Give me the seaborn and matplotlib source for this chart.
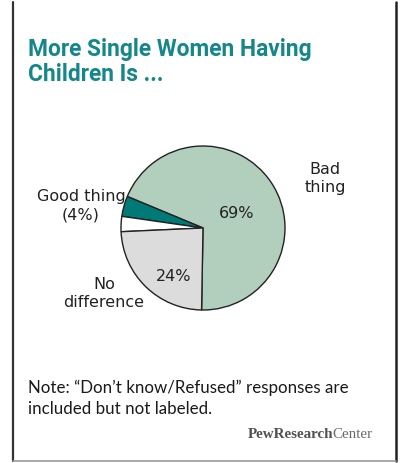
import matplotlib
matplotlib.use("Agg")
import matplotlib.pyplot as plt
import seaborn as sns
from matplotlib.lines import Line2D

sns.set_theme(style="white")
plt.rcParams["font.family"] = ["DejaVu Sans"]

# Survey shares (percent); the unlabeled slice is "Don't know/Refused"
categories = ["Bad thing", "Good thing", "Don't know/Refused", "No difference"]
values = [69, 4, 3, 24]
colors = ["#b2cfbd", "#007a76", "#ffffff", "#dcdcdc"]

title = "More Single Women Having\nChildren Is ..."
note = "Note: \u201cDon\u2019t know/Refused\u201d responses are\nincluded but not labeled."

W, H = 402, 464
fig = plt.figure(figsize=(W / 100, H / 100), dpi=100)
fig.patch.set_facecolor("white")

def fx(px):
    return px / W

def fy(py):
    return 1 - py / H

# Panel frame: two side rules and a light bottom rule
fig.add_artist(Line2D([fx(13), fx(13)], [fy(3), fy(462)], color="#333333", lw=1.6))
fig.add_artist(Line2D([fx(396), fx(396)], [fy(3), fy(462)], color="#222222", lw=1.8))
fig.add_artist(Line2D([fx(13), fx(396)], [fy(462), fy(462)], color="#999999", lw=1.2))

# Two-line heading
for i, line in enumerate(title.split("\n")):
    fig.text(fx(28), fy(56 + 25 * i), line, color="#14878a", fontsize=16.4,
             family=["Roboto", "DejaVu Sans"], fontweight="bold",
             va="baseline", ha="left")

# Pie
cx, cy, r = 203, 229, 82
ax = fig.add_axes([fx(cx - r), fy(cy + r), 2 * r / W, 2 * r / H])
wedges, _ = ax.pie(values, colors=colors, startangle=-91, counterclock=True,
                   wedgeprops=dict(edgecolor="#222222", linewidth=1.0))
ax.set_xlim(-1, 1)
ax.set_ylim(-1, 1)
ax.set_aspect("equal")
ax.axis("off")

def to_data(px, py):
    return (px - cx) / r, (cy - py) / r

tc = "#222222"
lab = dict(fontsize=11.5, color=tc, linespacing=1.25, ha="center", va="center",
           clip_on=False)
ax.text(*to_data(237, 214), f"{values[0]}%", **lab)
ax.text(*to_data(174, 277), f"{values[3]}%", **lab)
ax.text(*to_data(325, 179), "Bad\nthing", **lab)
ax.text(*to_data(81, 206), f"Good thing\n({values[1]}%)", **lab)
ax.text(*to_data(104, 294), "No\ndifference", **lab)

# Footnote
for i, line in enumerate(note.split("\n")):
    fig.text(fx(28), fy(393 + 21 * i), line, fontsize=12.2, family=["Lato", "DejaVu Sans"],
             color="#1a1a1a", va="baseline", ha="left")

# Logo text: bold "PewResearch" followed by regular "Center"
serif = ["Liberation Serif", "DejaVu Serif"]
t2 = fig.text(fx(373), fy(438), "Center", family=serif, fontsize=10.8,
              color="#6a6a6a", ha="right", va="baseline")
fig.canvas.draw()
bb = t2.get_window_extent(renderer=fig.canvas.get_renderer())
fig.text(bb.x0 / W, fy(438), "PewResearch", family=serif, fontsize=10.8,
         fontweight="bold", color="#505050", ha="right", va="baseline")

fig.savefig("out.png", dpi=100, facecolor="white")
